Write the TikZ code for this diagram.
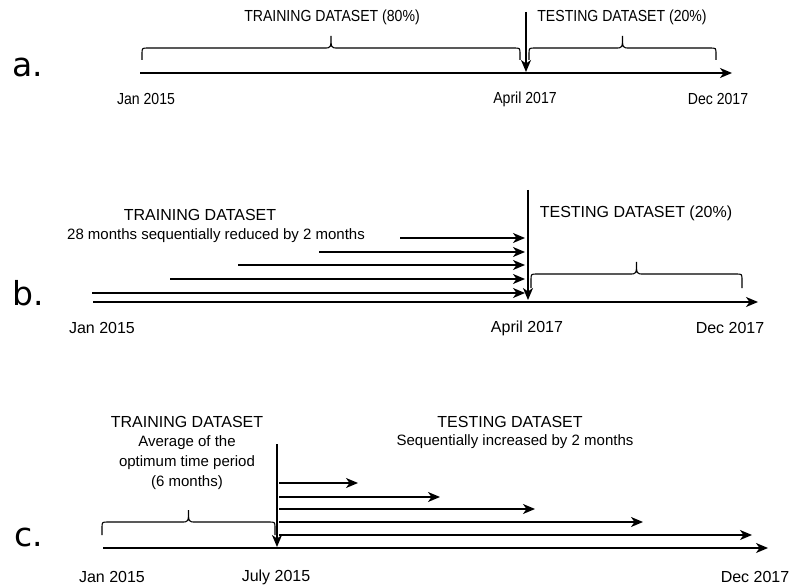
\documentclass[tikz,border=0pt]{standalone}
\usepackage{fontspec}
\setmainfont{Liberation Sans}
\newfontfamily\narrowfont[FakeStretch=0.88]{Liberation Sans}
\newfontfamily\panelfont{DejaVu Sans}
\usetikzlibrary{arrows.meta}

\tikzset{
  tl/.style={line width=1.3pt, -{Stealth[length=12pt,width=10pt,inset=3.5pt]}},
  hdr/.style={font=\fontsize{16}{19}\selectfont, inner sep=0pt},
  hdra/.style={font=\narrowfont\fontsize{16}{19}\selectfont, inner sep=0pt},
  sub/.style={font=\fontsize{15}{20}\selectfont, inner sep=0pt, align=center},
  panel/.style={font=\panelfont\fontsize{33}{36}\selectfont, anchor=base west, inner sep=0pt},
  brace/.style={line width=1.1pt}
}

% brace: x1, x2, top, end
\newcommand{\timebrace}[4]{
  \pgfmathsetmacro\bmid{(#1+#2)/2}
  \pgfmathsetmacro\bpeak{#3-12}
  \draw [brace] (#1,#4) -- (#1,#3+6) .. controls (#1,#3) .. (#1+6,#3)
    -- (\bmid-7,#3) .. controls (\bmid,#3) .. (\bmid,\bpeak)
    .. controls (\bmid,#3) .. (\bmid+7,#3) -- (#2-6,#3)
    .. controls (#2,#3) .. (#2,#3+6) -- (#2,#4);
}

\begin{document}
\begin{tikzpicture}[x=1pt, y=-1pt]
  \useasboundingbox (0,0) rectangle (789,588);

  % a.
  \node [panel] (la) at (12,77) {a.};
  \coordinate (aS) at (140,73);
  \coordinate (aE) at (732,73);
  \coordinate (aTop) at (526,12);
  \coordinate (aCut) at (526,72);
  \draw [tl] (aS) -- (aE);
  \draw [tl] (aTop) -- (aCut);
  \timebrace{142}{520}{48}{60}
  \timebrace{529}{716}{48}{60}
  \node [hdra] (aTrain) at (332,17) {TRAINING DATASET (80\%)};
  \node [hdra] (aTest) at (622,17) {TESTING DATASET (20\%)};
  \node [hdra] (aJan) at (146,99) {Jan 2015};
  \node [hdra] (aApr) at (525,99) {April 2017};
  \node [hdra] (aDec) at (718,99) {Dec 2017};

  % b.
  \node [panel] (lb) at (12,305) {b.};
  \coordinate (bS) at (93,302);
  \coordinate (bE) at (758,302);
  \coordinate (bTop) at (528,190);
  \coordinate (bCut) at (528,300);
  \draw [tl] (bS) -- (bE);
  \foreach \y/\x [count=\i] in {238/400, 252/319, 265/238, 279/170, 293/92}
  {
    \coordinate (bs\i) at (\x,\y);
    \coordinate (be\i) at (525,\y);
    \draw [tl] (bs\i) -- (be\i);
  }
  \draw [tl] (bTop) -- (bCut);
  \timebrace{531}{742}{274}{288}
  \node [hdr] (bTrain) at (200,215) {TRAINING DATASET};
  \node [sub] (bTrainSub) at (216,236) {28 months sequentially reduced by 2 months};
  \node [hdr] (bTest) at (636,213) {TESTING DATASET (20\%)};
  \node [hdr] (bJan) at (102,328) {Jan 2015};
  \node [hdr] (bApr) at (527,328) {April 2017};
  \node [hdr] (bDec) at (730,328) {Dec 2017};

  % c.
  \node [panel] (lc) at (14,546) {c.};
  \coordinate (cS) at (103,548);
  \coordinate (cE) at (768,548);
  \coordinate (cTop) at (277,444);
  \coordinate (cCut) at (277,547);
  \draw [tl] (cS) -- (cE);
  \draw [tl] (cTop) -- (cCut);
  \foreach \y/\x [count=\i] in {483/358, 497/440, 509/535, 522/643, 535/752}
  {
    \coordinate (cs\i) at (279,\y);
    \coordinate (ce\i) at (\x,\y);
    \draw [tl] (cs\i) -- (ce\i);
  }
  \timebrace{102}{275}{522}{535}
  \node [hdr] (cTrain) at (187,422) {TRAINING DATASET};
  \node [sub] (cTrainSub) at (187,463) {Average of the\\optimum time period\\(6 months)};
  \node [hdr] (cTest) at (510,422) {TESTING DATASET};
  \node [sub] (cTestSub) at (515,442) {Sequentially increased by 2 months};
  \node [hdr] (cJan) at (112,577) {Jan 2015};
  \node [hdr] (cJul) at (276,577) {July 2015};
  \node [hdr] (cDec) at (755,577) {Dec 2017};
\end{tikzpicture}
\end{document}
